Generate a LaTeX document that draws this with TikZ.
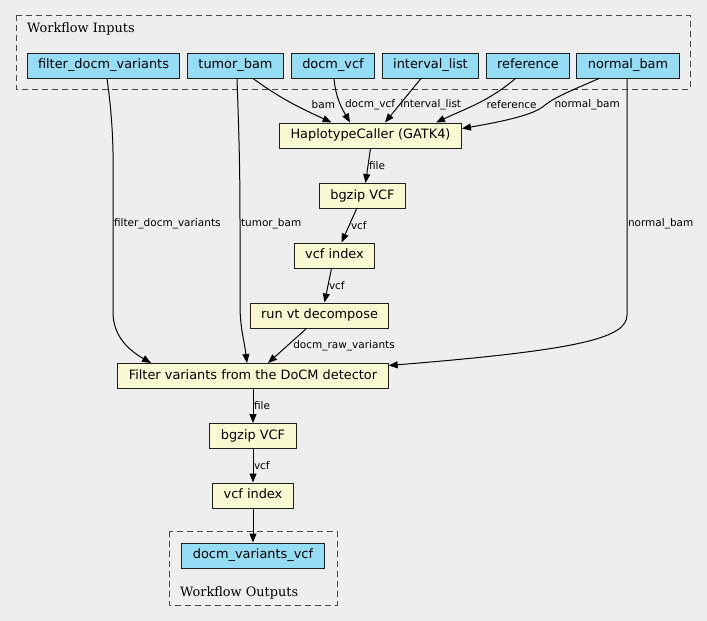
\documentclass[tikz,border=0pt]{standalone}
\usepackage{fontspec}
\setsansfont{DejaVu Sans}
\newfontfamily\clusterfont{DejaVu Serif}
\usetikzlibrary{arrows.meta, positioning, calc}

\definecolor{bggray}{HTML}{EEEEEE}
\definecolor{inblue}{HTML}{94DDF4}
\definecolor{stepyellow}{HTML}{FAFAD2}
\definecolor{boxline}{HTML}{1E1E1E}

\begin{document}
\begin{tikzpicture}[x=1pt, y=-1pt,
		>={Triangle[length=9pt,width=7pt]},
		io/.style={draw=boxline, fill=inblue, line width=1pt, minimum height=25pt,
			text height=9.6pt, text depth=2.8pt,
			inner xsep=11pt, inner ysep=0pt, font=\sffamily\fontsize{12.9}{15}\selectfont},
		stepbox/.style={io, fill=stepyellow},
		lbl/.style={font=\sffamily\fontsize{10.5}{12}\selectfont, inner sep=0.5pt},
		cluster/.style={draw=black!72, dash pattern=on 6pt off 4pt, line width=1pt},
		grouplabel/.style={anchor=base west, inner sep=0pt, font=\clusterfont\fontsize{12.9}{15}\selectfont},
		wire/.style={->, line width=1pt}]
		\useasboundingbox (0,0) rectangle (707,621);
		\fill[bggray] (0,0) rectangle (707,621);
		
		% clusters
		\draw[cluster] (16,15) rectangle (690,89);
		\node[grouplabel] (inlabel) at (27,32) {Workflow Inputs};
		\draw[cluster] (169,531) rectangle (337,605);
		\node[grouplabel] (outlabel) at (180,596) {Workflow Outputs};
		
		% inputs
		\node[io] (fdv) at (103.5,65.5) {filter\_docm\_variants};
		\node[io] (tb) at (235.5,65.5) {tumor\_bam};
		\node[io] (dv) at (333,65.5) {docm\_vcf};
		\node[io] (il) at (430.5,65.5) {interval\_list};
		\node[io] (ref) at (528,65.5) {reference};
		\node[io] (nb) at (628,65.5) {normal\_bam};
		
		% steps
		\node[stepbox] (haplo) at (370.5,135.5) {HaplotypeCaller (GATK4)};
		\node[stepbox] (bgz1) at (362.5,196) {bgzip VCF};
		\node[stepbox] (idx1) at (334.5,255.5) {vcf index};
		\node[stepbox] (vt) at (319.5,315.5) {run vt decompose};
		\node[stepbox] (ddf) at (253,376) {Filter variants from the DoCM detector};
		\node[stepbox] (bgz2) at (253,436) {bgzip VCF};
		\node[stepbox] (idx2) at (253,495.5) {vcf index};
		
		% output
		\node[io] (dvv) at (253,555.5) {docm\_variants\_vcf};
		
		% inputs to HaplotypeCaller
		\draw[wire] ([xshift=17.5pt]tb.south) to[out=-36,in=155] ([xshift=-39pt]haplo.north)
			node[lbl, anchor=east] at (336,104.5) {bam};
		\draw[wire] ([xshift=1pt]dv.south) to[out=-85,in=120] ([xshift=-20.5pt]haplo.north)
			node[lbl, anchor=west] at (344,105) {docm\_vcf};
		\draw[wire] ([xshift=-9.5pt]il.south) -- node[lbl, pos=0.6, anchor=west] {interval\_list} ([xshift=14.5pt]haplo.north);
		\draw[wire] ([xshift=-12.5pt]ref.south) to[out=-140,in=25] ([xshift=65.5pt]haplo.north)
			node[lbl, anchor=west] at (485.5,105) {reference};
		\draw[wire] ([xshift=-29pt]nb.south) .. controls (575,89) and (555,97) .. (545,105)
			.. controls (535,115) and (500,122) .. ([yshift=7pt]haplo.east)
			node[lbl, anchor=west] at (553.5,105) {normal\_bam};
		
		% main chain
		\draw[wire] (haplo.south) -- node[lbl, anchor=west] {file} ([xshift=3pt]bgz1.north);
		\draw[wire] ([xshift=-6pt]bgz1.south) -- node[lbl, anchor=west, xshift=1pt] {vcf} ([xshift=7pt]idx1.north);
		\draw[wire] ([xshift=-3pt]idx1.south) -- node[lbl, anchor=west] {vcf} ([xshift=5pt]vt.north);
		\draw[wire] ([xshift=-13pt]vt.south) -- node[lbl, anchor=west, xshift=5pt] {docm\_raw\_variants} ([xshift=15pt]ddf.north);
		
		% long inputs to the filter
		\draw[wire] ([xshift=3.5pt]fdv.south) to[out=-82,in=90] (113,224)
			node[lbl, anchor=west] {filter\_docm\_variants} -- (113,312)
			to[out=-90,in=150] ([xshift=-102pt]ddf.north);
		\draw[wire] ([xshift=1.5pt]tb.south) to[out=-88,in=90] (240,224)
			node[lbl, anchor=west] {tumor\_bam} -- (240,305)
			to[out=-90,in=97] ([xshift=-6pt]ddf.north);
		\draw[wire] ([xshift=-1pt]nb.south) -- (627,224)
			node[lbl, anchor=west] {normal\_bam} -- (627,315)
			.. controls (627,338) and (580,350) .. ([yshift=10.5pt]ddf.east);
		
		\draw[wire] (ddf) -- node[lbl, anchor=west] {file} (bgz2);
		\draw[wire] (bgz2) -- node[lbl, anchor=west] {vcf} (idx2);
		\draw[wire] (idx2) -- (dvv);
	\end{tikzpicture}
\end{document}
